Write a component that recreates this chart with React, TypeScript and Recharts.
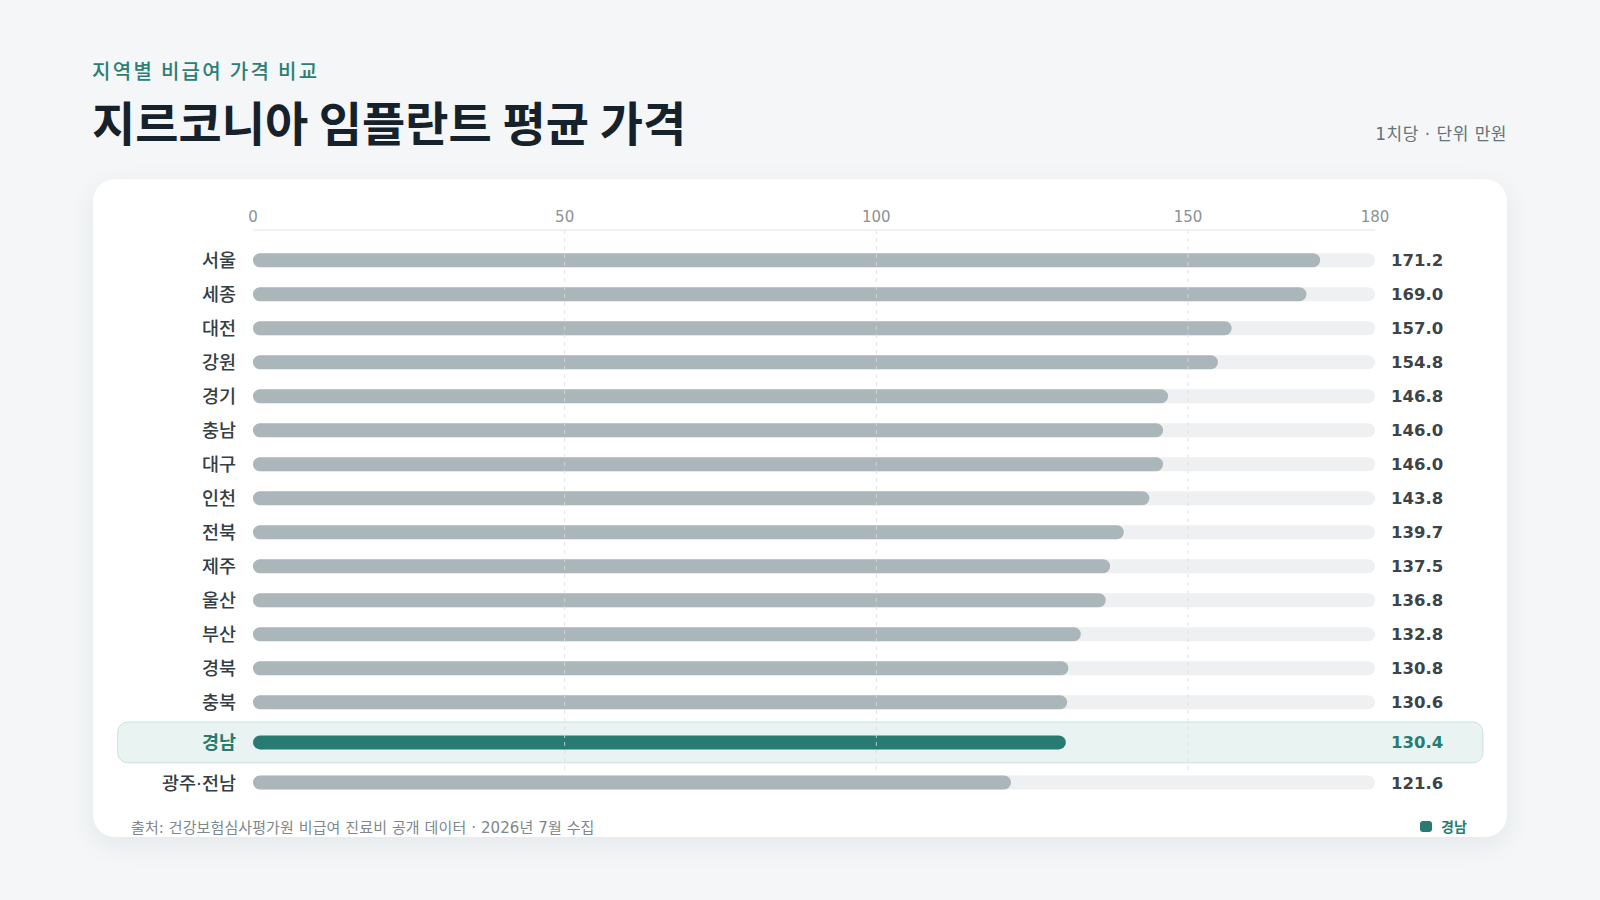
import React from "react";
import { BarChart, Bar, XAxis, YAxis, Cell, LabelList, ReferenceLine, ReferenceArea } from "recharts";

const regions = ["서울", "세종", "대전", "강원", "경기", "충남", "대구", "인천", "전북", "제주", "울산", "부산", "경북", "충북", "경남", "광주·전남"];
const prices = [171.2, 169.0, 157.0, 154.8, 146.8, 146.0, 146.0, 143.8, 139.7, 137.5, 136.8, 132.8, 130.8, 130.6, 130.4, 121.6];
const highlightRegion = "경남";
const xTicks = [0, 50, 100, 150, 180];
const gridTicks = [50, 100, 150];

const FONT = '"DejaVu Sans", "Noto Sans CJK KR", sans-serif';
const TEAL = "#277b71";
const BAR_GRAY = "#aab6ba";
const TRACK = "#eef0f1";

// the highlighted row gets a little extra room above and below
const ROW_GAP = 0.18;
const hiIndex = regions.indexOf(highlightRegion);
const rows = regions.map((name, i) => ({
  name,
  price: prices[i],
  pos: i + (i >= hiIndex ? ROW_GAP : 0) + (i > hiIndex ? ROW_GAP : 0),
}));
const rowTicks = rows.map((r) => r.pos);
const hiPos = rows[hiIndex].pos;
const nameAt = (pos: number) => rows.find((r) => Math.abs(r.pos - pos) < 1e-6)?.name ?? "";

const W = 1600;
const H = 900;
const margin = { top: 200, right: 225, bottom: 100.8, left: 133 };
const plotRight = W - margin.right;

const RegionTick = (props: any) => {
  const { x, y, payload } = props;
  const name = nameAt(payload.value);
  const hi = name === highlightRegion;
  return (
    <text
      x={x}
      y={y}
      dy={7}
      textAnchor="end"
      fontFamily={FONT}
      fontSize={18.5}
      fontWeight={hi ? 700 : 500}
      fill={hi ? TEAL : "#343e43"}
    >
      {name}
    </text>
  );
};

const ValueLabel = (props: any) => {
  const vb = props.viewBox || props;
  const idx = props.index;
  const hi = idx !== undefined ? idx === hiIndex : props.value === prices[hiIndex];
  return (
    <text
      x={plotRight + 16}
      y={vb.y + vb.height / 2}
      dy={6}
      fontFamily={FONT}
      fontSize={16.5}
      fontWeight={700}
      fill={hi ? TEAL : "#3b4448"}
    >
      {Number(props.value).toFixed(1)}
    </text>
  );
};

export default function App() {
  return (
    <div
      style={{
        position: "absolute",
        left: 0,
        top: 0,
        width: W,
        height: H,
        background: "#f4f6f7",
        fontFamily: FONT,
        overflow: "hidden",
      }}
    >
      <div style={{ position: "absolute", left: 92, top: 61, fontSize: 20, lineHeight: "20px", fontWeight: 500, letterSpacing: 2.3, color: "#2b7f74", fontFamily: '"Noto Sans CJK KR", sans-serif' }}>
        지역별 비급여 가격 비교
      </div>
      <div style={{ position: "absolute", left: 92, top: 96.5, fontSize: 47, lineHeight: "47px", fontWeight: 700, letterSpacing: 0, color: "#16222b", fontFamily: '"Noto Sans CJK KR", sans-serif' }}>
        지르코니아 임플란트 평균 가격
      </div>
      <div style={{ position: "absolute", right: 93, top: 126, fontSize: 17, lineHeight: "17px", letterSpacing: 0.5, color: "#66737a" }}>
        1치당 · 단위 만원
      </div>

      <div
        style={{
          position: "absolute",
          left: 93,
          top: 179,
          width: 1414,
          height: 658,
          background: "#ffffff",
          borderRadius: 22,
          boxShadow: "0 8px 28px rgba(30, 50, 70, 0.07)",
        }}
      />

      <div style={{ position: "absolute", left: 0, top: 0 }}>
        <BarChart width={W} height={H} data={rows} layout="vertical" margin={margin}>
          <ReferenceArea
            x1={-21.7}
            x2={197.3}
            y1={hiPos - 0.6}
            y2={hiPos + 0.6}
            ifOverflow="visible"
            shape={(p: any) => (
              <rect x={p.x} y={p.y} width={p.width} height={p.height} rx={10} ry={10} fill="#e9f4f2" stroke="#c9e1dc" strokeWidth={1} />
            )}
          />
          <XAxis
            type="number"
            orientation="top"
            domain={[0, 180]}
            ticks={xTicks}
            height={30}
            tickLine={false}
            tickSize={0}
            tickMargin={8}
            axisLine={{ stroke: "#dfe3e5" }}
            tick={{ fill: "#8a9296", fontSize: 15, fontFamily: FONT }}
          />
          <YAxis
            type="number"
            dataKey="pos"
            domain={[-0.89, 15.85]}
            ticks={rowTicks}
            width={120}
            axisLine={false}
            tickLine={false}
            tickSize={0}
            tickMargin={17}
            tick={<RegionTick />}
            interval={0}
          />
          <Bar
            dataKey="price"
            barSize={14}
            radius={7}
            background={{ fill: TRACK, radius: 7 }}
            isAnimationActive={false}
          >
            {rows.map((r, i) => (
              <Cell key={r.name} fill={i === hiIndex ? TEAL : BAR_GRAY} />
            ))}
            <LabelList dataKey="price" content={<ValueLabel />} />
          </Bar>
          {gridTicks.map((t) => (
            <ReferenceLine
              key={t}
              segment={[{ x: t, y: -0.89 }, { x: t, y: 15 }]}
              stroke="#d9dfe2"
              strokeDasharray="4 4"
              strokeOpacity={0.8}
            />
          ))}
        </BarChart>
      </div>

      <div style={{ position: "absolute", left: 131, top: 821, fontSize: 15, lineHeight: "15px", letterSpacing: 0.1, color: "#7d878c" }}>
        출처: 건강보험심사평가원 비급여 진료비 공개 데이터 · 2026년 7월 수집
      </div>
      <div style={{ position: "absolute", left: 1420, top: 821, width: 12, height: 11, borderRadius: 3, background: TEAL }} />
      <div style={{ position: "absolute", left: 1441, top: 820, fontSize: 14, lineHeight: "14px", fontWeight: 700, color: TEAL }}>
        경남
      </div>
    </div>
  );
}
